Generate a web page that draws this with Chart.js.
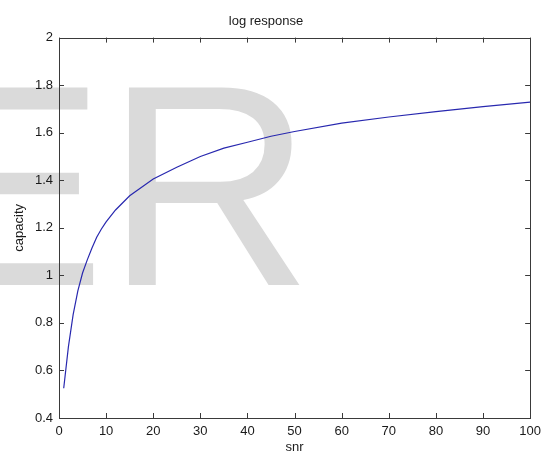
<!DOCTYPE html>
<html>
<head>
<meta charset="utf-8">
<script src="https://cdn.jsdelivr.net/npm/chart.js@4/dist/chart.umd.min.js"></script>
<style>
  html, body { margin: 0; padding: 0; background: #fff; }
  #wrap { width: 547px; height: 455px; }
</style>
</head>
<body>
<div id="wrap"><canvas id="logChart" width="547" height="455"></canvas></div>
<script>
// values
const snr = [1, 2, 3, 4, 5, 6, 7, 8, 9, 10, 12, 15, 20, 25, 30, 35, 40, 45, 50, 60, 70, 80, 90, 100];
const capacity = [0.525, 0.70, 0.835, 0.935, 1.01, 1.065, 1.115, 1.16, 1.195, 1.225, 1.275, 1.335,
                  1.405, 1.455, 1.50, 1.535, 1.56, 1.585, 1.605, 1.64, 1.666, 1.689, 1.71, 1.729];
const xTicks = [0, 10, 20, 30, 40, 50, 60, 70, 80, 90, 100];
const yTicks = [0.4, 0.6, 0.8, 1, 1.2, 1.4, 1.6, 1.8, 2];
const watermark = 'ER';

const FONT = "'Liberation Sans', Arial, Helvetica, sans-serif";
const AXIS = '#3a3a3a';
const TEXT = '#1a1a1a';

// white background + big grey watermark behind everything
const backdrop = {
    id: 'backdrop',
    beforeDraw(chart) {
        const ctx = chart.ctx;
        ctx.save();
        ctx.fillStyle = '#fff';
        ctx.fillRect(0, 0, chart.width, chart.height);
        ctx.fillStyle = '#dadada';
        ctx.font = '287px ' + FONT;
        ctx.textBaseline = 'alphabetic';
        ctx.textAlign = 'left';
        ctx.fillText(watermark, -86, 285);
        ctx.restore();
    }
};

// matlab style box with inward ticks on all four sides
const matlabBox = {
    id: 'matlabBox',
    afterDraw(chart) {
        const ctx = chart.ctx;
        const a = chart.chartArea;
        const xs = chart.scales.x, ys = chart.scales.y;
        const len = 5;
        ctx.save();
        ctx.strokeStyle = AXIS;
        ctx.lineWidth = 1;
        ctx.beginPath();
        xTicks.forEach(v => {
            const px = Math.round(xs.getPixelForValue(v)) + 0.5;
            ctx.moveTo(px, a.bottom); ctx.lineTo(px, a.bottom - len);
            ctx.moveTo(px, a.top); ctx.lineTo(px, a.top + len);
        });
        yTicks.forEach(v => {
            const py = Math.round(ys.getPixelForValue(v)) + 0.5;
            ctx.moveTo(a.left, py); ctx.lineTo(a.left + len, py);
            ctx.moveTo(a.right, py); ctx.lineTo(a.right - len, py);
        });
        ctx.stroke();
        ctx.strokeRect(Math.round(a.left) + 0.5, Math.round(a.top) + 0.5,
                       Math.round(a.right - a.left), Math.round(a.bottom - a.top));
        ctx.restore();
    }
};

const ctx = document.getElementById('logChart').getContext('2d');
new Chart(ctx, {
    type: 'line',
    data: {
        datasets: [{
            label: 'capacity',
            data: snr.map((s, i) => ({ x: s, y: capacity[i] })),
            borderColor: 'rgb(40, 40, 175)',
            borderWidth: 1.2,
            pointRadius: 0,
            tension: 0,
            fill: false,
        }],
    },
    plugins: [backdrop, matlabBox],
    options: {
        responsive: false,
        animation: false,
        layout: { padding: { left: 0, right: 15, top: 0, bottom: 0 } },
        plugins: {
            legend: { display: false },
            tooltip: { enabled: false },
            title: {
                display: true,
                text: 'log response',
                color: TEXT,
                font: { family: FONT, size: 13, weight: 'normal' },
                padding: { top: 14, bottom: 8 },
            },
        },
        scales: {
            x: {
                type: 'linear',
                min: 0,
                max: 100,
                afterBuildTicks: s => { s.ticks = xTicks.map(v => ({ value: v })); },
                afterFit: s => { s.height = 37; },
                grid: { display: false, drawTicks: false },
                border: { display: false },
                ticks: {
                    color: TEXT,
                    padding: 6,
                    maxRotation: 0,
                    font: { family: FONT, size: 13 },
                    callback: v => String(v),
                },
                title: {
                    display: true,
                    text: 'snr',
                    color: TEXT,
                    font: { family: FONT, size: 13 },
                    padding: { top: 0, bottom: 0 },
                },
            },
            y: {
                type: 'linear',
                min: 0.4,
                max: 2,
                afterBuildTicks: s => { s.ticks = yTicks.map(v => ({ value: v })); },
                afterFit: s => { s.width = 59; },
                grid: { display: false, drawTicks: false },
                border: { display: false },
                ticks: {
                    color: TEXT,
                    padding: 6,
                    font: { family: FONT, size: 13 },
                    callback: v => String(Math.round(v * 10) / 10),
                },
                title: {
                    display: true,
                    text: 'capacity',
                    color: TEXT,
                    font: { family: FONT, size: 13 },
                    padding: { top: 12, bottom: 0 },
                },
            },
        },
    },
});
</script>
</body>
</html>
